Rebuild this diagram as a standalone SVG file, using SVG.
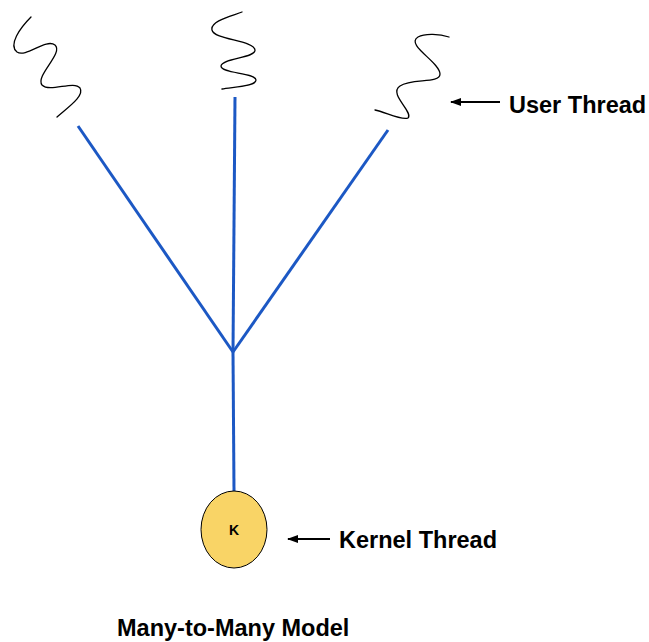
<svg xmlns="http://www.w3.org/2000/svg" width="649" height="642" viewBox="0 0 649 642">
<style>
.sq{fill:none;stroke:#000;stroke-width:1.3;stroke-linecap:round}
.ln{stroke:#1c58c4;stroke-width:3;fill:none}
.ar{stroke:#000;stroke-width:2}
.lbl{font-family:"Liberation Sans",Arial,sans-serif;font-weight:bold;font-size:23.5px;fill:#000}
</style>
<defs>
<marker id="ah" markerWidth="12" markerHeight="8" refX="10" refY="4" orient="auto" markerUnits="userSpaceOnUse">
<path d="M11,4 L0,0 L0,8 Z" fill="#000"/>
</marker>
</defs>
<rect width="649" height="642" fill="#fff"/>
<g id="user-thread-1"><path class="sq" d="M31,17 C20,28 8,45 17,52 C26,58 46,38 55,45 C64,53 35,76 42,85 C50,93 74,80 80,88 C85,96 67,108 57,117"/></g>
<g id="user-thread-2"><path class="sq" d="M242,12 C232,16 210,21 212,30 C214,40 254,40 255,50 C256,58 222,58 221,66 C221,74 255,72 256,80 C256,87 230,87 222,89"/></g>
<g id="user-thread-3"><path class="sq" d="M449,37 C440,34 425,33 418,37 C405,45 440,62 440,74 C440,84 412,78 400,86 C388,94 414,112 408,118 C402,121 385,112 375,110"/></g>
<g id="connectors">
<line class="ln" x1="78" y1="126" x2="233" y2="352"/>
<line class="ln" x1="235" y1="97" x2="233" y2="352"/>
<line class="ln" x1="388" y1="130" x2="233" y2="352"/>
<line class="ln" x1="233" y1="352" x2="234" y2="491"/>
<line class="ar" x1="500" y1="102" x2="451" y2="102" marker-end="url(#ah)"/>
<line class="ar" x1="330" y1="539" x2="288" y2="539" marker-end="url(#ah)"/>
</g>
<g id="kernel-thread">
<ellipse cx="234" cy="529.5" rx="33" ry="38.5" fill="#f9d466" stroke="#000" stroke-width="1"/>
<text x="234" y="535" text-anchor="middle" font-family="Liberation Sans,Arial,sans-serif" font-weight="bold" font-size="14">K</text>
</g>
<g id="labels">
<text class="lbl" x="509" y="113">User Thread</text>
<text class="lbl" x="339" y="548">Kernel Thread</text>
<text class="lbl" x="117" y="636">Many-to-Many Model</text>
</g>
</svg>
